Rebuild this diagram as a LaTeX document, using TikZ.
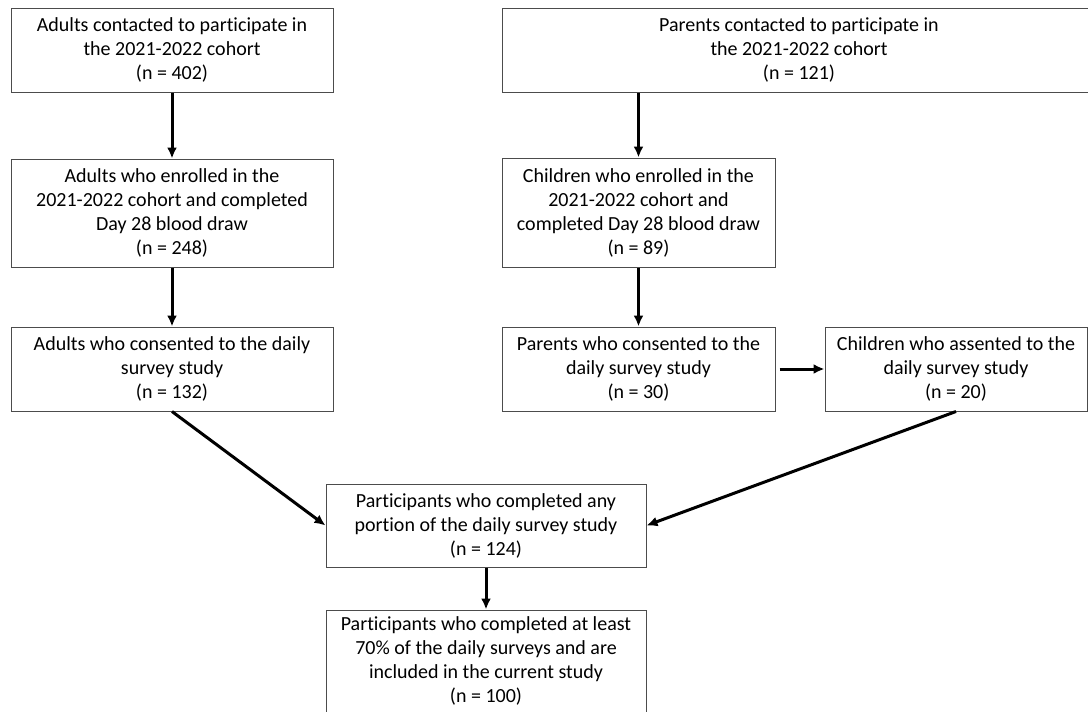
\documentclass[tikz,border=0pt]{standalone}
\usepackage{fontspec}
\setmainfont{Carlito}[Ligatures=NoCommon]
\usetikzlibrary{arrows.meta,positioning}

\begin{document}
\begin{tikzpicture}[x=1pt,y=-1pt]
  \tikzset{
    box/.style={draw=black!70, line width=1pt, rectangle, align=center, inner sep=0pt, minimum height=84pt, font=\fontsize{20}{24}\selectfont},
    line/.style={draw, -{Latex[length=11pt,width=10pt]}, line width=3pt}
  }
  \path [use as bounding box, fill=white] (0,0) rectangle (1088,712);
  % adults column
  \node [box, minimum width=322pt] (adultcont) at (172,50) {Adults contacted to participate in\\the 2021-2022 cohort\\(n = 402)};
  \node [box, minimum width=322pt, minimum height=108pt, below=66pt of adultcont] (adultenrol) {Adults who enrolled in the\\2021-2022 cohort and completed\\Day 28 blood draw\\(n = 248)};
  \node [box, minimum width=322pt, below=59pt of adultenrol] (adultcons) {Adults who consented to the daily\\survey study\\(n = 132)};
  % children column
  \node [box, minimum width=594pt] (parcont) at (799,50) {Parents contacted to participate in\\the 2021-2022 cohort\\(n = 121)};
  \node [box, minimum width=273pt, minimum height=109pt, below=65pt of parcont.south west, anchor=north west] (childenrol) {Children who enrolled in the\\2021-2022 cohort and\\completed Day 28 blood draw\\(n = 89)};
  \node [box, minimum width=273pt, below=59pt of childenrol] (parcons) {Parents who consented to the\\daily survey study\\(n = 30)};
  \node [box, minimum width=262pt, right=49pt of parcons] (childass) {Children who assented to the\\daily survey study\\(n = 20)};
  % merged
  \node [box, minimum width=320pt, minimum height=83pt] (partany) at (486,525.5) {Participants who completed any\\portion of the daily survey study\\(n = 124)};
  \node [box, minimum width=320pt, minimum height=102pt, below=42pt of partany] (partincl) {Participants who completed at least\\70\% of the daily surveys and are\\included in the current study\\(n = 100)};

  \path [line] (adultcont)--(adultenrol);
  \path [line] (adultenrol)--(adultcons);
  \path [line] (childenrol.north |- parcont.south)--(childenrol);
  \path [line] (childenrol)--(parcons);
  \path [line, shorten <=4pt] (parcons)--(childass);
  \path [line] (adultcons.south)--(partany.west);
  \path [line] (childass.south)--(partany.east);
  \path [line] (partany)--(partincl);
\end{tikzpicture}
\end{document}
